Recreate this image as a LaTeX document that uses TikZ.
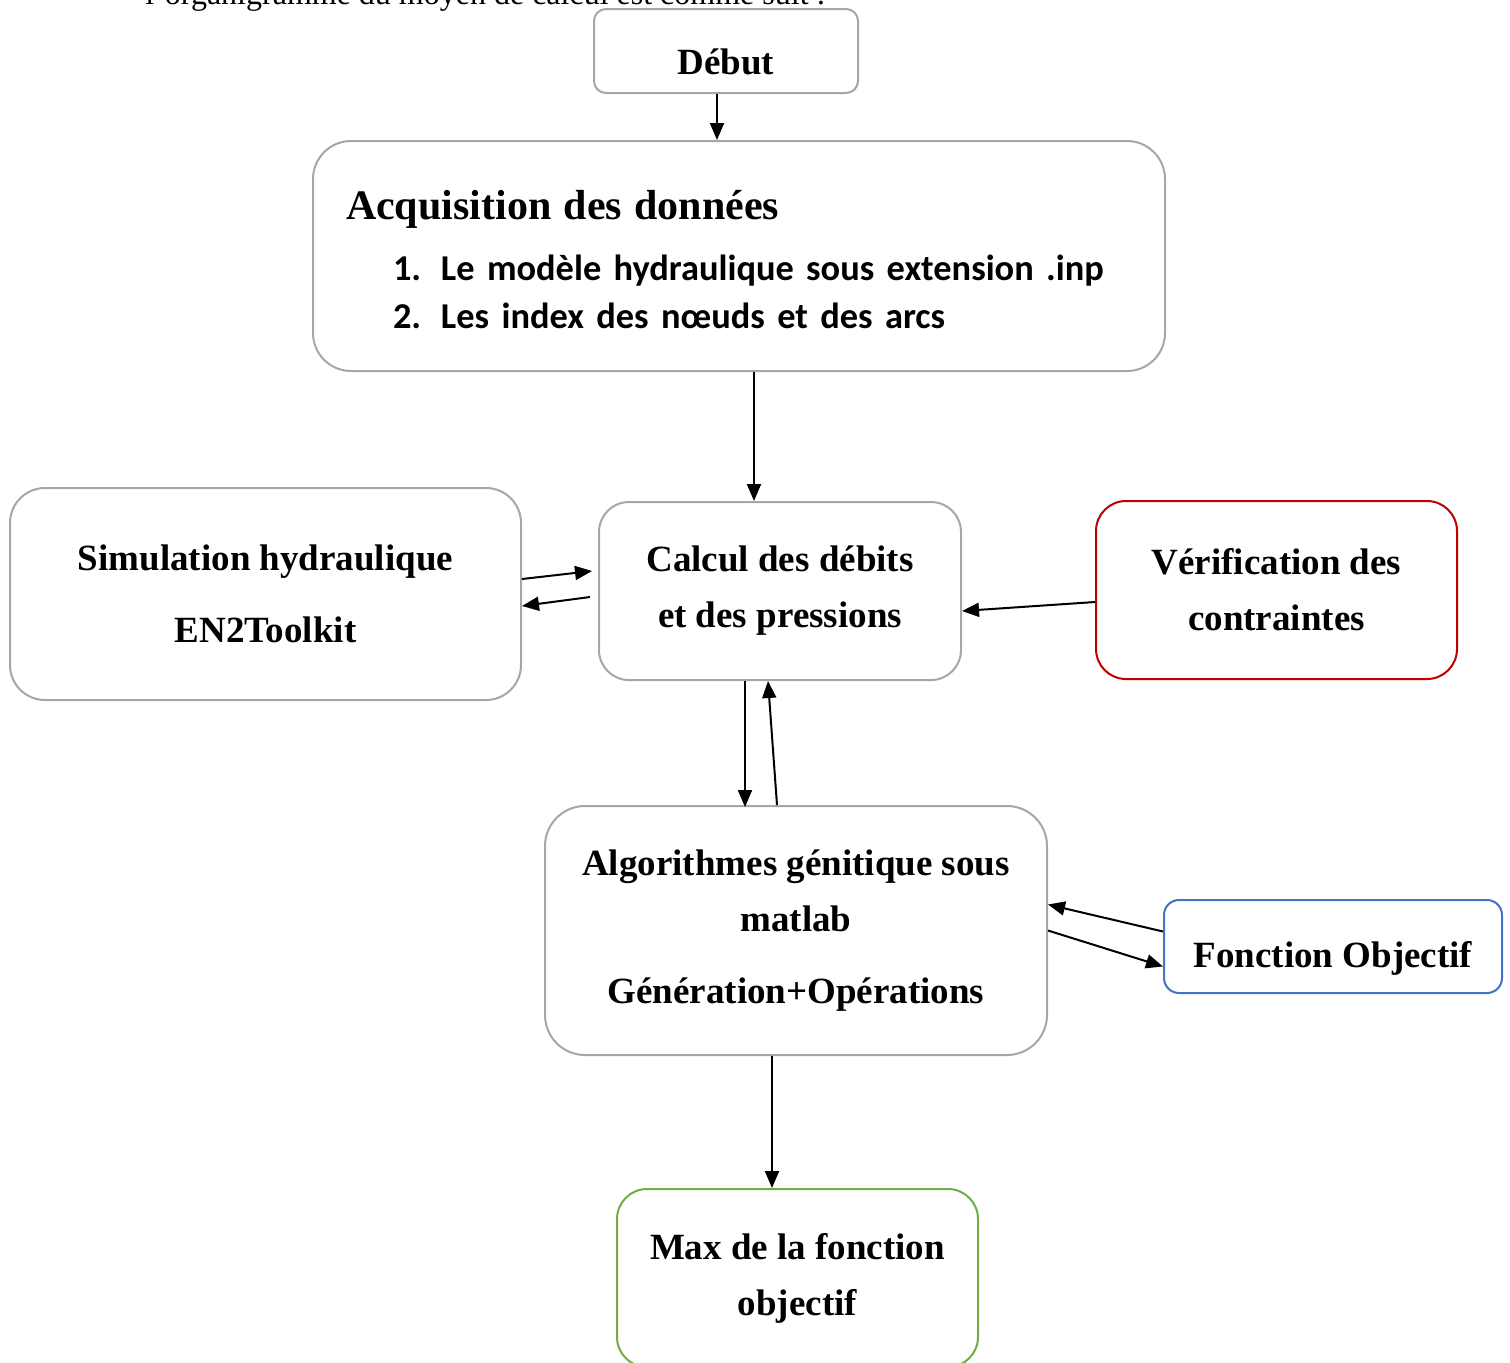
\documentclass[tikz,border=0pt]{standalone}
\usepackage{fontspec}
\setmainfont{Liberation Serif}
\newfontfamily\calibri{Carlito}
\usetikzlibrary{arrows.meta}

\definecolor{boxgray}{RGB}{166,166,166}
\definecolor{boxred}{RGB}{192,0,0}
\definecolor{boxblue}{RGB}{68,114,196}
\definecolor{boxgreen}{RGB}{112,173,71}

\begin{document}
\begin{tikzpicture}[x=0.5pt,y=-0.5pt,
    box/.style={draw=boxgray,line width=1pt,rounded corners=#1,align=center,
      font=\fontsize{18.5}{28}\selectfont\bfseries},
    box/.default=15pt,
    arr/.style={-{Triangle[length=8.5pt,width=7pt]},line width=1pt}]
    \clip (0,0) rectangle (1510,1362);

    % texte d'introduction
    \node[anchor=base west,inner sep=0pt,font=\fontsize{16}{19}\selectfont] (intro) at (145,4)
      {l’organigramme du moyen de calcul est comme suit :};

    % Organigramme
    \node[box=6pt,minimum width=132pt,minimum height=42pt,text height=23pt,text depth=0pt] (debut) at (726,51) {Début};
    \node[box=19pt,align=left,text width=393pt,inner xsep=16.5pt,minimum height=115pt,
      font=\fontsize{18.5}{24}\selectfont\bfseries] (acq) at (739,256)
      {\rule{0pt}{18pt}{\fontsize{21}{25}\selectfont Acquisition des données}\\[6.5pt]
       {\calibri\fontsize{18.2}{24}\selectfont\hspace*{23.5pt}\makebox[24pt][l]{1.}Le modèle hydraulique sous extension .inp}\\
       {\calibri\fontsize{18.2}{24}\selectfont\hspace*{23.5pt}\makebox[24pt][l]{2.}Les index des nœuds et des arcs}};
    \node[box=17.5pt,minimum width=255.5pt,minimum height=106pt] (sim) at (265.5,594)
      {Simulation hydraulique\\[8pt] EN2Toolkit};
    \node[box,minimum width=181pt,minimum height=89pt] (calc) at (780,591)
      {Calcul des débits\\ et des pressions};
    \node[box,draw=boxred,minimum width=180.5pt,minimum height=89pt] (verif) at (1276.5,590)
      {Vérification des\\ contraintes};
    \node[box=20pt,minimum width=251pt,minimum height=124.5pt] (algo) at (796,930.5)
      {Algorithmes génitique sous\\ matlab\\[8pt] Génération+Opérations};
    \node[box=7.5pt,draw=boxblue,minimum width=169pt,minimum height=46.5pt,text height=21pt,text depth=0pt] (fobj) at (1333,946.5)
      {Fonction Objectif};
    \node[box,draw=boxgreen,minimum width=180.5pt,minimum height=89pt] (max) at (797.5,1278)
      {Max de la fonction\\ objectif};

    \draw[arr] ([xshift=-4.5pt]debut.south) -- ([xshift=-4.5pt]debut.south |- acq.north);
    \draw[arr] ([xshift=-13pt]calc.north |- acq.south) -- ([xshift=-13pt]calc.north);
    \draw[arr] ([yshift=7.5pt]sim.east) -- ([xshift=-3pt,yshift=10pt]calc.west);
    \draw[arr] ([xshift=-4pt,yshift=-3pt]calc.west) -- ([yshift=-6pt]sim.east);
    \draw[arr] ([yshift=-6pt]verif.west) -- ([yshift=-10pt]calc.east);
    \draw[arr] ([xshift=-17.5pt]calc.south) -- ([xshift=-17.5pt,yshift=-1pt]calc.south |- algo.north);
    \draw[arr] ([xshift=-9.5pt]algo.north) -- ([xshift=-6pt]calc.south);
    \draw[arr] ([yshift=7.5pt]fobj.west) -- ([yshift=13pt]algo.east);
    \draw[arr] (algo.east) -- ([yshift=-10pt]fobj.west);
    \draw[arr] ([xshift=-12pt]algo.south) -- ([xshift=-12pt]algo.south |- max.north);
\end{tikzpicture}
\end{document}
